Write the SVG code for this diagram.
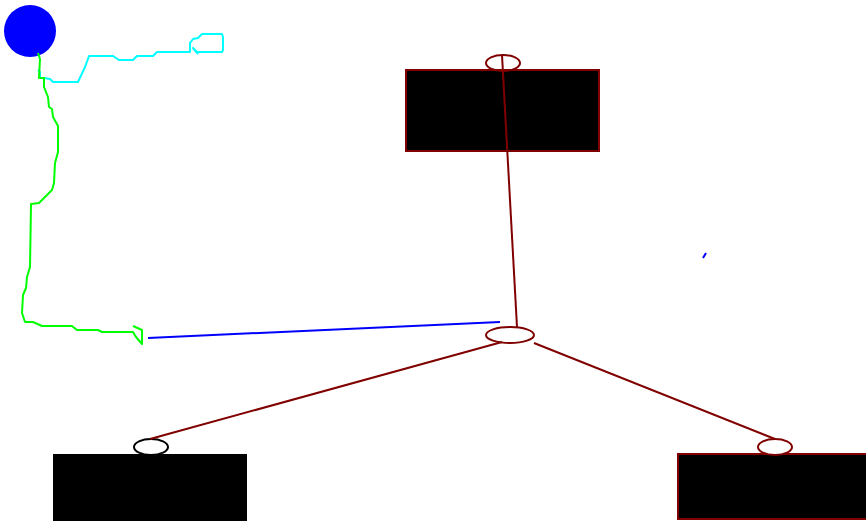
<svg xmlns="http://www.w3.org/2000/svg" width="866" height="521" viewBox="0 0 866 521">
<style>
.box{fill:#000;stroke:#800000;stroke-width:2}
.port{fill:none;stroke:#800000;stroke-width:2}
.edge{fill:none;stroke:#800000;stroke-width:2}
.scrib{fill:none;stroke-width:2;stroke-linejoin:round}
</style>
<rect width="866" height="521" fill="#fff"/>
<g id="start"><circle cx="30" cy="31" r="26" fill="#0000ff"/></g>
<g id="node-top">
<rect class="box" x="406" y="70" width="193" height="81"/>
<ellipse class="port" cx="503" cy="63" rx="17" ry="8"/>
</g>
<g id="node-center"><ellipse class="port" cx="510" cy="335" rx="24" ry="8"/></g>
<g id="node-left">
<rect x="53" y="454" width="194" height="70" fill="#000"/>
<ellipse cx="151" cy="447" rx="17" ry="8" fill="#fff" stroke="#000" stroke-width="2"/>
</g>
<g id="node-right">
<rect class="box" x="678" y="454" width="192" height="65"/>
<ellipse class="port" cx="775" cy="447" rx="17" ry="8" fill="#fff" style="fill:#fff"/>
</g>
<g id="connectors">
<polyline class="scrib" stroke="#00ffff" points="38,70 40,72 40,78 44,78 50,79 53,82 78,82 85,67 89,56 113,56 119,60 133,60 137,56 153,56 157,52 190,52 190,43 193,39 198,38 202,34 222,34 223,37 223,50 222,52 197,52 193,48 198,54"/>
<polyline class="scrib" stroke="#00ff00" points="38,53 40,59 39,78 44,78 44,87 48,97 49,107 52,109 53,117 58,126 58,152 55,163 54,183 52,190 39,203 31,204 30,267 27,277 26,288 23,295 22,313 25,322 33,322 42,326 72,326 77,330 98,330 102,332 133,332 136,337 142,344 142,330 133,326"/>
<line x1="148" y1="338" x2="500" y2="322" stroke="#0000ff" stroke-width="2"/>
<line x1="703" y1="258" x2="706" y2="253" stroke="#0000ff" stroke-width="2"/>
<line class="edge" x1="502" y1="55" x2="517" y2="327"/>
<line class="edge" x1="502" y1="342" x2="150" y2="439"/>
<line class="edge" x1="534" y1="343" x2="775" y2="439"/>
</g>
</svg>
